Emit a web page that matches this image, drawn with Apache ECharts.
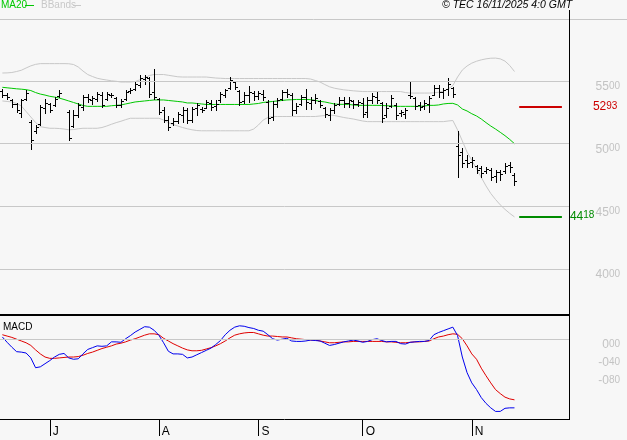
<!DOCTYPE html>
<html><head><meta charset="utf-8">
<script src="https://cdn.jsdelivr.net/npm/echarts@6/dist/echarts.min.js"></script>
<style>html,body{margin:0;padding:0;background:#f7f7f7}#c{width:627px;height:440px}</style>
</head><body><div id="c"></div>
<script>
// ---------- DATA ----------
const startDay = [2025, 5, 17];   // first trading slot: 17 Jun 2025
const slotCount = 120;
const monthLetters = ['J','F','M','A','M','J','J','A','S','O','N','D'];

const opens = [5420,5388,5349,5317,5245,5357,5173,5102,5157,5285,
 5317,5309,5380,null,5253,5141,5229,5293,5372,5349,
 5357,5388,5357,5388,5364,5309,5357,5420,5436,5468,
 5516,5524,5412,5357,5269,5189,5165,5181,5229,5269,
 5189,5285,5277,5285,5325,5301,5349,5388,5444,5492,
 5420,5341,5388,5404,5380,5396,5333,5213,5317,5357,
 5412,5388,5269,5317,5372,5325,5349,5341,5285,5229,
 5269,5317,5349,5325,5341,5317,5325,5253,5349,5372,
 5325,5229,5301,5309,5245,5237,5388,5364,5309,5301,
 5317,5388,5444,5412,5436,5444,4982,4934,4870,4854,
 4822,4807,4783,4791,4743,4775,4783,4830,4751];
const highs = [5436,5404,5357,5325,5357,5428,5189,5149,5309,5357,
 5325,5372,5428,null,5269,5269,5325,5388,5396,5380,
 5412,5412,5412,5404,5372,5357,5428,5444,5492,5548,
 5548,5532,5596,5364,5293,5221,5205,5253,5293,5285,
 5293,5325,5293,5349,5349,5349,5412,5436,5532,5500,
 5428,5412,5460,5420,5420,5428,5349,5341,5364,5428,
 5436,5404,5325,5388,5436,5372,5396,5349,5293,5285,
 5325,5372,5372,5372,5349,5349,5364,5372,5404,5412,
 5333,5325,5388,5325,5269,5285,5492,5372,5333,5349,
 5380,5468,5468,5444,5524,5452,5102,4966,4910,4894,
 4830,4822,4815,4807,4791,4791,4846,4854,4767];
const lows = [5372,5357,5293,5253,5213,5349,4958,5086,5149,5245,
 5253,5301,5372,null,5030,5133,5213,5269,5333,5317,
 5341,5293,5349,5372,5293,5293,5349,5404,5428,5452,
 5476,5372,5357,5237,5173,5110,5149,5165,5173,5165,
 5173,5229,5253,5285,5269,5269,5333,5372,5436,5436,
 5309,5325,5333,5349,5357,5349,5165,5189,5293,5349,
 5372,5229,5245,5309,5277,5277,5325,5293,5213,5189,
 5245,5309,5293,5293,5285,5301,5213,5213,5325,5325,
 5173,5213,5293,5197,5221,5205,5364,5277,5269,5277,
 5253,5388,5372,5364,5388,5372,4735,4815,4815,4815,
 4767,4735,4767,4711,4695,4711,4767,4775,4671];
const closes = [5388,5372,5317,5269,5349,5404,5030,5133,5293,5325,
 5269,5357,5404,null,5046,5229,5309,5372,5357,5364,
 5396,5309,5396,5388,5309,5341,5412,5428,5476,5524,
 5532,5396,5372,5253,5189,5133,5181,5237,5269,5189,
 5277,5309,5269,5333,5293,5317,5396,5428,5508,5452,
 5333,5388,5412,5380,5404,5372,5205,5317,5349,5412,
 5396,5269,5301,5372,5333,5349,5364,5309,5237,5269,
 5309,5349,5325,5349,5317,5333,5237,5349,5380,5349,
 5205,5285,5364,5229,5253,5269,5380,5301,5293,5325,
 5364,5444,5412,5428,5476,5396,4910,4846,4846,4870,
 4791,4767,4799,4735,4775,4759,4822,4815,4703];

const ma20 = [5450,5446,5442,5438,5435,5431,5424,5408,5396,5388,
 5378,5372,5364,5353,5341,5329,5317,5305,5298,5298,
 5298,5298,5298,5303,5306,5309,5317,5325,5333,5337,
 5341,5345,5349,5349,5349,5345,5341,5337,5333,5325,
 5325,5321,5317,5313,5313,5313,5313,5313,5313,5313,
 5313,5313,5313,5317,5321,5329,5333,5337,5341,5345,
 5349,5351,5353,5353,5353,5351,5345,5338,5333,5325,
 5317,5314,5314,5313,5309,5306,5306,5306,5306,5306,
 5305,5303,5301,5298,5298,5298,5298,5298,5298,5301,
 5306,5306,5309,5317,5321,5322,5309,5277,5261,5239,
 5221,5197,5168,5141,5117,5091,5064,5034,5000];
const bbUpper = [5564,5565,5568,5576,5586,5604,5621,5633,5639,5639,
 5639,5639,5639,5639,5638,5632,5612,5580,5552,5536,
 5522,5514,5508,5502,5498,5492,5492,5492,5496,5510,
 5526,5544,5552,5552,5552,5546,5540,5534,5532,5532,
 5532,5532,5532,5532,5528,5524,5522,5520,5520,5520,
 5520,5520,5520,5520,5520,5520,5520,5520,5520,5520,
 5520,5520,5520,5520,5520,5516,5504,5492,5472,5454,
 5443,5436,5430,5426,5422,5419,5416,5416,5416,5416,
 5416,5416,5416,5416,5416,5408,5404,5404,5404,5404,
 5404,5406,5410,5420,5436,5464,5532,5588,5620,5643,
 5658,5669,5677,5682,5683,5677,5659,5624,5576];
const bbLower = [5341,5337,5333,5321,5301,5257,5213,5169,5136,5129,
 5123,5123,5121,5117,5111,5113,5119,5123,5123,5123,
 5123,5129,5141,5155,5168,5179,5192,5203,5203,5203,
 5203,5203,5203,5203,5189,5168,5153,5141,5129,5119,
 5111,5105,5103,5103,5103,5103,5103,5103,5103,5103,
 5103,5103,5103,5117,5149,5189,5209,5217,5217,5217,
 5217,5217,5217,5217,5217,5217,5217,5221,5225,5229,
 5225,5217,5209,5203,5197,5189,5181,5176,5176,5176,
 5176,5176,5176,5176,5176,5176,5176,5176,5176,5176,
 5176,5176,5176,5176,5181,5185,5110,5022,4934,4867,
 4799,4731,4663,4603,4555,4512,4476,4444,4416];

const macdLine = [0.05,-0.07,-0.18,-0.28,-0.29,-0.31,-0.42,-0.64,-0.62,-0.55,
 -0.48,-0.40,-0.34,-0.32,-0.42,-0.45,-0.44,-0.33,-0.23,-0.19,
 -0.15,-0.16,-0.15,-0.06,-0.06,-0.07,0.01,0.08,0.16,0.22,
 0.28,0.27,0.20,0.09,-0.08,-0.27,-0.33,-0.33,-0.34,-0.42,
 -0.40,-0.35,-0.30,-0.25,-0.20,-0.12,-0.03,0.10,0.20,0.27,
 0.30,0.29,0.26,0.24,0.20,0.18,0.10,0.01,-0.02,0.00,
 0.02,-0.04,-0.05,-0.05,-0.04,-0.02,-0.03,-0.04,-0.09,-0.14,
 -0.12,-0.09,-0.06,-0.04,-0.02,-0.04,-0.07,-0.05,-0.01,0.01,
 -0.03,-0.06,-0.05,-0.05,-0.10,-0.11,-0.07,-0.06,-0.05,-0.05,
 -0.03,0.10,0.15,0.19,0.23,0.27,0.08,-0.40,-0.75,-0.98,
 -1.13,-1.31,-1.44,-1.54,-1.62,-1.62,-1.55,-1.54,-1.54];
const signalLine = [0.10,0.07,0.04,0.00,-0.04,-0.08,-0.14,-0.24,-0.33,-0.40,
 -0.43,-0.43,-0.42,-0.41,-0.40,-0.40,-0.39,-0.36,-0.32,-0.29,
 -0.25,-0.21,-0.18,-0.15,-0.11,-0.09,-0.06,-0.02,0.01,0.05,
 0.09,0.12,0.12,0.10,0.02,-0.04,-0.10,-0.15,-0.20,-0.24,
 -0.26,-0.26,-0.25,-0.22,-0.19,-0.15,-0.10,-0.04,0.03,0.09,
 0.12,0.14,0.15,0.15,0.12,0.09,0.07,0.07,0.06,0.05,
 0.05,0.03,0.01,0.00,-0.01,-0.02,-0.02,-0.04,-0.06,-0.08,
 -0.08,-0.07,-0.06,-0.06,-0.05,-0.05,-0.05,-0.05,-0.05,-0.05,
 -0.05,-0.06,-0.06,-0.07,-0.08,-0.08,-0.07,-0.06,-0.06,-0.05,
 -0.04,0.01,0.05,0.07,0.10,0.12,0.11,0.01,-0.15,-0.33,
 -0.45,-0.65,-0.82,-0.98,-1.13,-1.22,-1.30,-1.34,-1.36];

const priceTicks = [4000, 4500, 5000, 5500];
const macdTicks = [0, -0.4, -0.8];
const resistanceLevel = 5293;
const supportLevel = 4418;
const headerText = '\u00a9 TEC 16/11/2025 4:0 GMT';

// ---------- BUILD ----------
const cats = [];
(function(){
  const d = new Date(Date.UTC(startDay[0], startDay[1], startDay[2]));
  while (cats.length < slotCount) {
    const wd = d.getUTCDay();
    if (wd !== 0 && wd !== 6) cats.push(d.toISOString().slice(0,10));
    d.setUTCDate(d.getUTCDate() + 1);
  }
})();
function isMonthStart(i){ return i > 0 && i < opens.length && cats[i].slice(5,7) !== cats[i-1].slice(5,7); }
function monthLetter(v){ return monthLetters[parseInt(v.slice(5,7),10)-1]; }

const ohlc = [];
for (let i = 0; i < opens.length; i++) {
  if (opens[i] == null) continue;
  ohlc.push([i, opens[i], closes[i], lows[i], highs[i]]);
}

function splitPrice(v){ const s = String(Math.round(v)); return [s.slice(0, s.length-2), s.slice(-2)]; }
function splitDec(v){ const s = (Math.abs(v) < 1e-9 ? 0 : v).toFixed(2).split('.'); return [s[0], s[1]]; }

const FONT = 'Liberation Sans';
const labelGray = '#c3c3c3';
function richFor(color){
  return {
    a: {fontSize: 12, color: color, fontFamily: FONT, lineHeight: 12, verticalAlign: 'top'},
    b: {fontSize: 10, color: color, fontFamily: FONT, lineHeight: 12, verticalAlign: 'top'}
  };
}

function renderBar(params, api){
  const i = api.value(0);
  const pO = api.coord([i, api.value(1)]);
  const pC = api.coord([i, api.value(2)]);
  const pL = api.coord([i, api.value(3)]);
  const pH = api.coord([i, api.value(4)]);
  const x = Math.round(pH[0]) + 0.5;
  const yo = Math.round(pO[1]) + 0.5, yc = Math.round(pC[1]) + 0.5;
  const st = {stroke: '#000', lineWidth: 1};
  return {type: 'group', children: [
    {type: 'line', shape: {x1: x, y1: Math.round(pH[1]), x2: x, y2: Math.round(pL[1]) + 1}, style: st},
    {type: 'line', shape: {x1: x - 2.5, y1: yo, x2: x, y2: yo}, style: st},
    {type: 'line', shape: {x1: x, y1: yc, x2: x + 2.5, y2: yc}, style: st}
  ]};
}

const levelStart = cats[opens.length];
const levelEnd = cats[opens.length + 9];

const chart = echarts.init(document.getElementById('c'), null, {renderer: 'canvas'});
chart.setOption({
  backgroundColor: '#f7f7f7',
  animation: false,
  grid: [
    {left: 0, right: 58, top: 19, height: 296},
    {left: 0, right: 58, top: 316, height: 103}
  ],
  xAxis: [
    {type: 'category', gridIndex: 0, data: cats, boundaryGap: true,
     axisLine: {show: false, onZero: false}, axisTick: {show: false}, axisLabel: {show: false}, splitLine: {show: false}},
    {type: 'category', gridIndex: 1, data: cats, boundaryGap: true, position: 'bottom',
     axisLine: {show: true, onZero: false, lineStyle: {color: '#000', width: 1}},
     axisTick: {show: true, alignWithLabel: true, length: 17, interval: (i) => isMonthStart(i), lineStyle: {color: '#000', width: 1}},
     axisLabel: {show: true, interval: (i) => isMonthStart(i), formatter: (v) => monthLetter(v),
       align: 'left', margin: 7, padding: [0,0,0,3], fontSize: 12, color: '#000', fontFamily: FONT},
     splitLine: {show: false}}
  ],
  yAxis: [
    {type: 'value', gridIndex: 0, position: 'right', min: 3633, max: 5995, scale: true,
     axisLine: {show: false}, axisTick: {show: false}, splitLine: {show: false},
     axisLabel: {show: true, customValues: priceTicks, align: 'right', margin: 51, verticalAlign: 'top',
       formatter: (v) => { const p = splitPrice(v); return '{a|' + p[0] + '}{b|' + p[1] + '}'; },
       rich: richFor(labelGray)}},
    {type: 'value', gridIndex: 1, position: 'right', min: -1.79, max: 0.52,
     axisLine: {show: false}, axisTick: {show: false}, splitLine: {show: false},
     axisLabel: {show: true, customValues: macdTicks, align: 'right', margin: 51, verticalAlign: 'top',
       formatter: (v) => { const p = splitDec(v); return '{a|' + p[0] + '}{b|' + p[1] + '}'; },
       rich: richFor(labelGray)}}
  ],
  series: [
    {name: 'BBands upper', type: 'line', xAxisIndex: 0, yAxisIndex: 0, data: bbUpper, showSymbol: false, symbol: 'none',
     lineStyle: {color: '#c8c8c8', width: 1}, z: 2, silent: true,
     markLine: {silent: true, symbol: 'none', label: {show: false}, lineStyle: {color: '#c8c8c8', width: 1, type: 'solid'},
       data: priceTicks.map(v => ({yAxis: v}))}},
    {name: 'BBands lower', type: 'line', xAxisIndex: 0, yAxisIndex: 0, data: bbLower, showSymbol: false, symbol: 'none',
     lineStyle: {color: '#c8c8c8', width: 1}, z: 2, silent: true},
    {name: 'MA20', type: 'line', xAxisIndex: 0, yAxisIndex: 0, data: ma20, showSymbol: false, symbol: 'none',
     lineStyle: {color: '#00c800', width: 1}, z: 3, silent: true,
     markLine: {silent: true, symbol: 'none',
       data: [
         [{coord: [levelStart, resistanceLevel], lineStyle: {color: '#cc0000', width: 2, type: 'solid'},
           label: {show: true, position: 'end', distance: 31, formatter: () => { const p = splitPrice(resistanceLevel); return '{a|' + p[0] + '}{b|' + p[1] + '}'; }, rich: richFor('#cc0000')}},
          {coord: [levelEnd, resistanceLevel]}],
         [{coord: [levelStart, supportLevel], lineStyle: {color: '#008c00', width: 2, type: 'solid'},
           label: {show: true, position: 'end', distance: 8, formatter: () => { const p = splitPrice(supportLevel); return '{a|' + p[0] + '}{b|' + p[1] + '}'; }, rich: richFor('#008c00')}},
          {coord: [levelEnd, supportLevel]}]
       ]}},
    {name: 'Price', type: 'custom', xAxisIndex: 0, yAxisIndex: 0, data: ohlc, renderItem: renderBar,
     encode: {x: 0, y: [1, 2, 3, 4]}, z: 4, silent: true},
    {name: 'Signal', type: 'line', xAxisIndex: 1, yAxisIndex: 1, data: signalLine, showSymbol: false, symbol: 'none',
     lineStyle: {color: '#e00000', width: 1}, z: 3, silent: true,
     markLine: {silent: true, symbol: 'none', label: {show: false}, lineStyle: {color: '#c8c8c8', width: 1, type: 'solid'},
       data: [{yAxis: 0}]}},
    {name: 'MACD', type: 'line', xAxisIndex: 1, yAxisIndex: 1, data: macdLine, showSymbol: false, symbol: 'none',
     lineStyle: {color: '#0000ee', width: 1}, z: 4, silent: true}
  ],
  graphic: [
    {type: 'line', shape: {x1: 0, y1: 19.5, x2: 627, y2: 19.5}, style: {stroke: '#c8c8c8', lineWidth: 1}, z: 1},
    {type: 'rect', shape: {x: 0, y: 314, width: 570, height: 2}, style: {fill: '#000'}, z: 10},
    {type: 'line', shape: {x1: 569.5, y1: 10, x2: 569.5, y2: 420}, style: {stroke: '#000', lineWidth: 1}, z: 10},
    {type: 'text', left: 1, top: 0, style: {text: 'MA20', fill: '#00c800', font: '10px "Liberation Sans"'}, z: 10},
    {type: 'line', shape: {x1: 25, y1: 5.5, x2: 34, y2: 5.5}, style: {stroke: '#00c800', lineWidth: 1}, z: 10},
    {type: 'text', left: 41, top: 0, style: {text: 'BBands', fill: '#c8c8c8', font: '10px "Liberation Sans"'}, z: 10},
    {type: 'line', shape: {x1: 73, y1: 5.5, x2: 81, y2: 5.5}, style: {stroke: '#c8c8c8', lineWidth: 1}, z: 10},
    {type: 'text', left: 442, top: 0, style: {text: headerText, fill: '#000', font: 'italic 10.5px "Liberation Sans"'}, z: 10},
    {type: 'text', left: 3, top: 322, style: {text: 'MACD', fill: '#000', font: '10px "Liberation Sans"'}, z: 10}
  ]
});
</script></body></html>
